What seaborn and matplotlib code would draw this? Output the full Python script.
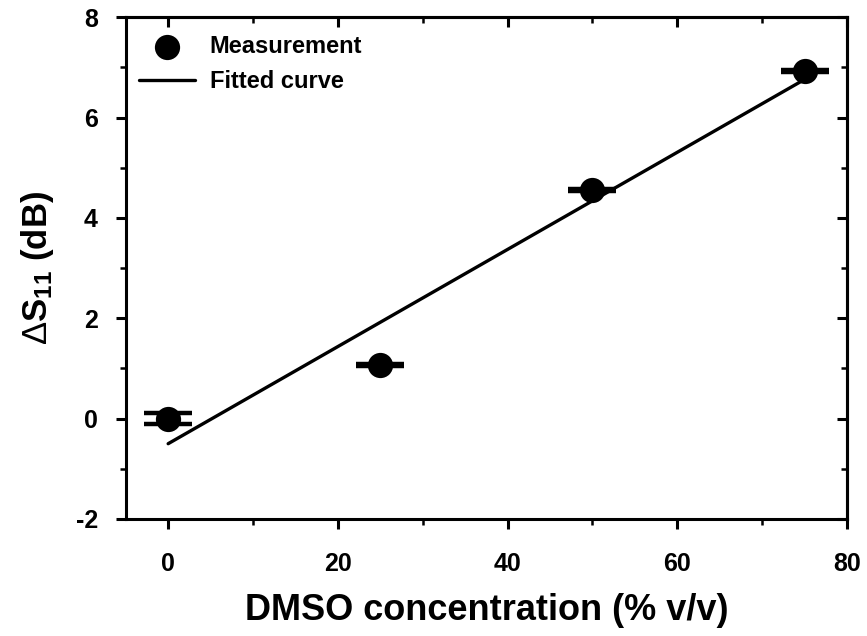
import numpy as np
import pandas as pd
import matplotlib
matplotlib.use("Agg")
import matplotlib.pyplot as plt
from matplotlib.ticker import MultipleLocator
import seaborn as sns

# data
dmso_conc = [0, 25, 50, 75]
delta_s11 = [0.0, 1.07, 4.55, 6.92]
s11_err = [0.11, 0.02, 0.02, 0.02]
fit_x = [0, 75]
fit_y = [-0.5, 6.76]

sns.set_theme(style="ticks")
plt.rcParams['font.family'] = ['Liberation Sans', 'DejaVu Sans']
plt.rcParams['font.weight'] = 'bold'
plt.rcParams['text.color'] = 'black'
plt.rcParams['axes.labelcolor'] = 'black'
plt.rcParams['xtick.color'] = 'black'
plt.rcParams['ytick.color'] = 'black'
plt.rcParams['axes.edgecolor'] = 'black'
plt.rcParams['axes.unicode_minus'] = False
plt.rcParams['mathtext.fontset'] = 'custom'
plt.rcParams['mathtext.rm'] = 'Liberation Sans:regular'
plt.rcParams['mathtext.it'] = 'Liberation Sans:bold'
plt.rcParams['mathtext.bf'] = 'Liberation Sans:bold'

meas = pd.DataFrame({'conc': dmso_conc, 's11': delta_s11})
fit = pd.DataFrame({'conc': fit_x, 's11': fit_y})

fig = plt.figure(figsize=(8.67, 6.36), dpi=100)
ax = fig.add_axes([0.145, 0.184, 0.832, 0.789])

ax.errorbar(dmso_conc, delta_s11, yerr=s11_err, fmt='none', ecolor='black',
            elinewidth=2.5, capsize=17, capthick=3.2, zorder=2)
sns.lineplot(data=fit, x='conc', y='s11', color='black', linewidth=2.4,
             ax=ax, label='Fitted curve', zorder=3)
sns.scatterplot(data=meas, x='conc', y='s11', color='black', s=330,
                edgecolor='black', linewidth=0, ax=ax, label='Measurement', zorder=4)

ax.set_xlim(-5, 80)
ax.set_ylim(-2, 8)
ax.xaxis.set_major_locator(MultipleLocator(20))
ax.xaxis.set_minor_locator(MultipleLocator(10))
ax.yaxis.set_major_locator(MultipleLocator(2))
ax.yaxis.set_minor_locator(MultipleLocator(1))

for side in ['left', 'bottom', 'top', 'right']:
    ax.spines[side].set_visible(True)
    ax.spines[side].set_linewidth(2.2)
ax.tick_params(which='major', direction='out', length=7, width=2.2,
               labelsize=18)
ax.tick_params(axis='x', which='major', pad=17)
ax.tick_params(axis='y', which='major', pad=13)
ax.tick_params(which='minor', direction='out', length=4, width=1.8)
ax.tick_params(which='both', top=False, right=False)
# inward ticks on the top and right spines
ax_t = ax.secondary_xaxis('top')
ax_t.xaxis.set_major_locator(MultipleLocator(20))
ax_t.xaxis.set_minor_locator(MultipleLocator(10))
ax_t.tick_params(which='major', direction='in', length=7, width=2.2, labeltop=False)
ax_t.tick_params(which='minor', direction='in', length=4, width=1.8)
ax_t.spines['top'].set_linewidth(2.2)
ax_r = ax.secondary_yaxis('right')
ax_r.yaxis.set_major_locator(MultipleLocator(2))
ax_r.yaxis.set_minor_locator(MultipleLocator(1))
ax_r.tick_params(which='major', direction='in', length=7, width=2.2, labelright=False)
ax_r.tick_params(which='minor', direction='in', length=4, width=1.8)
ax_r.spines['right'].set_linewidth(2.2)

for lab in ax.get_xticklabels() + ax.get_yticklabels():
    lab.set_fontweight('bold')

ax.set_xlabel('DMSO concentration (% v/v)', fontsize=26, fontweight='bold', labelpad=12)
ax.set_ylabel(r'$\Delta\mathbf{S_{11}}$ (dB)', fontsize=25, fontweight='bold', labelpad=14)

handles, labels = ax.get_legend_handles_labels()
order = [labels.index('Measurement'), labels.index('Fitted curve')]
ax.legend([handles[i] for i in order], [labels[i] for i in order],
          loc='upper left', bbox_to_anchor=(0.0, 0.99), frameon=False,
          prop={'weight': 'bold', 'size': 17}, handlelength=2.4,
          handletextpad=0.6, labelspacing=0.5, markerscale=1.0,
          borderaxespad=0.15)

fig.savefig('out.png', dpi=100)
